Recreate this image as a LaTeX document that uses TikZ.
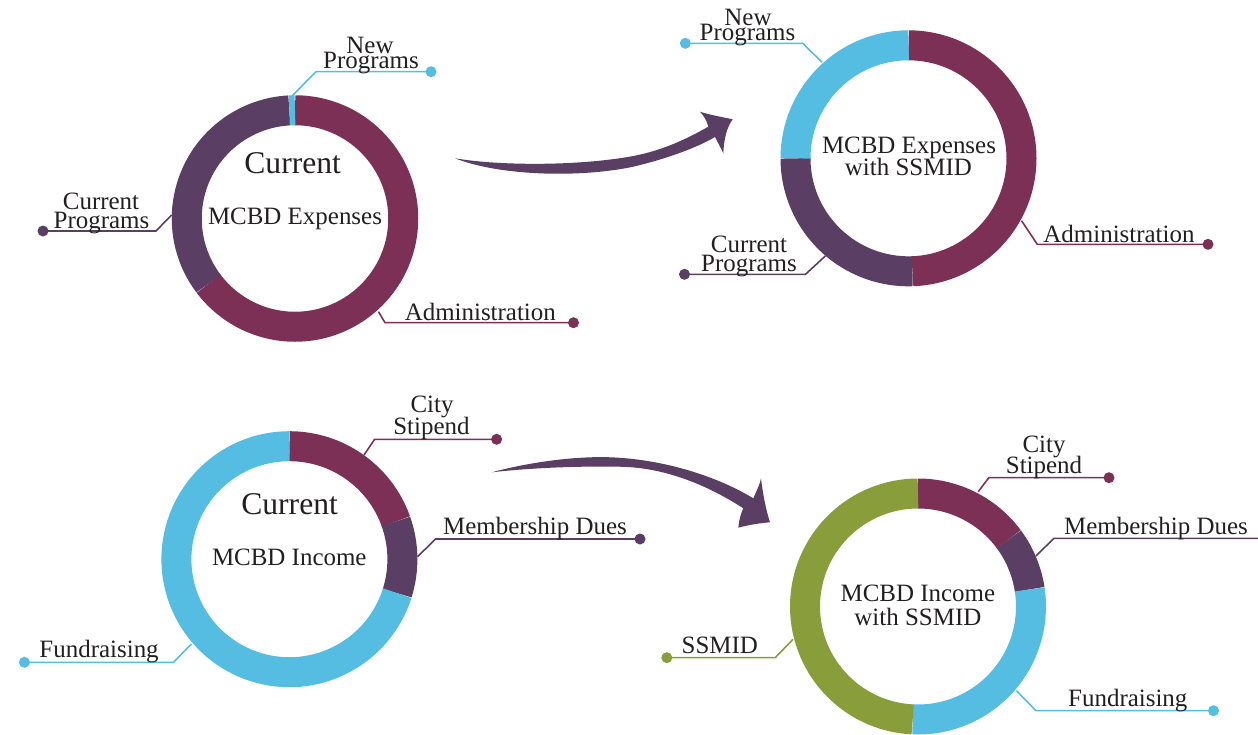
\documentclass[tikz,border=0pt]{standalone}
\usepackage{fontspec}
\setmainfont{Liberation Serif}
\usepackage{tikz}
\definecolor{mar}{RGB}{125,48,85}
\definecolor{pur}{RGB}{90,62,99}
\definecolor{blu}{RGB}{85,188,226}
\definecolor{grn}{RGB}{137,157,58}
\definecolor{txt}{RGB}{35,31,32}
\begin{document}
\begin{tikzpicture}[x=0.02cm,y=-0.02cm,
    seg/.style={line width=0.6cm},
    lead/.style={line width=0.9pt},
    lbl/.style={anchor=base,inner sep=0pt,text=txt,font=\fontsize{14.2}{17}\selectfont},
    big/.style={lbl,font=\fontsize{18}{21}\selectfont}]
  \useasboundingbox (0,0) rectangle (1258,734);
  \coordinate (ex1) at (295,218.5);
  \coordinate (ex2) at (908.5,158.3);
  \coordinate (in1) at (289.4,559.2);
  \coordinate (in2) at (918,606.5);
  \foreach \c/\a/\b/\r/\col in {
      ex1/-90/143/108.25/mar,
      ex1/143/267/108.25/pur,
      ex1/267/270/108.25/blu,
      ex2/-90/88/113/mar,
      ex2/88/180/113/pur,
      ex2/180/270/113/blu,
      in1/-90/-19.5/113/mar,
      in1/-19.5/17.5/113/pur,
      in1/17.5/270/113/blu,
      in2/-90/-36.5/113/mar,
      in2/-36.5/-8.7/113/pur,
      in2/-8.7/92.7/113/blu,
      in2/92.7/270/113/grn}{
    \draw[seg,\col] (\c) ++(\a:\r) arc[start angle=\a,end angle=\b,radius=\r];
  }
  \foreach \nm/\sx/\sy/\ex/\ey/\dx/\col in {
      ex1n/292/96/316/71.7/431/blu,
      ex1c/171.6/215/156/231/43/pur,
      ex1ad/378.5/311.7/385/322.7/573.5/mar,
      ex2n/822/62.3/802.8/43.3/685.3/blu,
      ex2c/825.3/256/805.5/274.3/684.5/pur,
      ex2ad/1021.5/220.7/1037.3/244.3/1208/mar,
      in1s/364/455/374.6/439.3/496.6/mar,
      in1md/417.5/556.7/435.6/539/640/pur,
      in1fr/191.5/644/173.4/662.3/24.4/blu,
      in2s/978.2/491.7/988.8/477.7/1109/mar,
      in2md/1036/556/1053.9/538.3/1268/pur,
      in2ss/793/639.3/775.2/657.7/666.8/grn,
      in2fr/1016.4/690.7/1036/710.7/1213.5/blu}{
    \coordinate (\nm-s) at (\sx,\sy);
    \coordinate (\nm-d) at (\dx,\ey);
    \draw[lead,\col] (\nm-s) -- (\ex,\ey) -- (\nm-d);
    \fill[\col] (\nm-d) circle[radius=5.5];
  }
  \node[big] (ex1a) at (292.7,173) {Current};
  \node[big] (in1a) at (289.6,514) {Current};
  \foreach \x/\y/\nm/\txt in {
      295/224/ex1b/MCBD Expenses,
      370/53/ex1n1/New,
      371/68.3/ex1n2/Programs,
      101/209.3/ex1c1/Current,
      101.5/228.3/ex1c2/Programs,
      480.3/320.7/ex1ad/Administration,
      909/153.3/ex2a/MCBD Expenses,
      908.4/175.7/ex2b/with SSMID,
      748/25/ex2n1/New,
      747.5/40.7/ex2n2/Programs,
      749/252.3/ex2c1/Current,
      749/271.7/ex2c2/Programs,
      1119/242.7/ex2ad/Administration,
      289.3/565/in1b/MCBD Income,
      432/412.3/in1s1/City,
      431.4/434/in1s2/Stipend,
      535/534/in1md/Membership Dues,
      99.1/657.3/in1fr/Fundraising,
      917.9/601.7/in2a/MCBD Income,
      917.9/625/in2b/with SSMID,
      1044/452.7/in2s1/City,
      1044/473.3/in2s2/Stipend,
      1156/534.3/in2md/Membership Dues,
      719.8/653.3/in2ss/SSMID,
      1127.8/706.7/in2fr/Fundraising}{
    \node[lbl] (\nm) at (\x,\y) {\txt};
  }
  \coordinate (a1) at (455,158.3);
  \coordinate (a2) at (491.7,472.3);
  \fill[pur] (a1) .. controls (500,176) and (580,178) .. (633.3,166.7)
    .. controls (670,158) and (700,146) .. (715,137)
    .. controls (718,143) and (721,148) .. (723.3,153.3)
    .. controls (724,138) and (727,127) .. (732.7,119.3)
    .. controls (722,117) and (710,115) .. (700,111.7)
    .. controls (704,116) and (707,121) .. (708.3,126.7)
    .. controls (690,137) and (665,150) .. (633.3,156)
    .. controls (580,166) and (500,166) .. (a1) -- cycle;
  \fill[pur] (a2) .. controls (530,462) and (580,455) .. (618.3,457.7)
    .. controls (670,461) and (720,478) .. (753.3,498.3)
    .. controls (757,490) and (760,484) .. (761,478.3)
    .. controls (763,495) and (766,510) .. (770,522.3)
    .. controls (760,523) and (748,525) .. (738.3,527.7)
    .. controls (739,520) and (741,513) .. (743.3,508.3)
    .. controls (715,490) and (670,467) .. (618.3,466.7)
    .. controls (575,466) and (530,468) .. (a2) -- cycle;
\end{tikzpicture}
\end{document}
